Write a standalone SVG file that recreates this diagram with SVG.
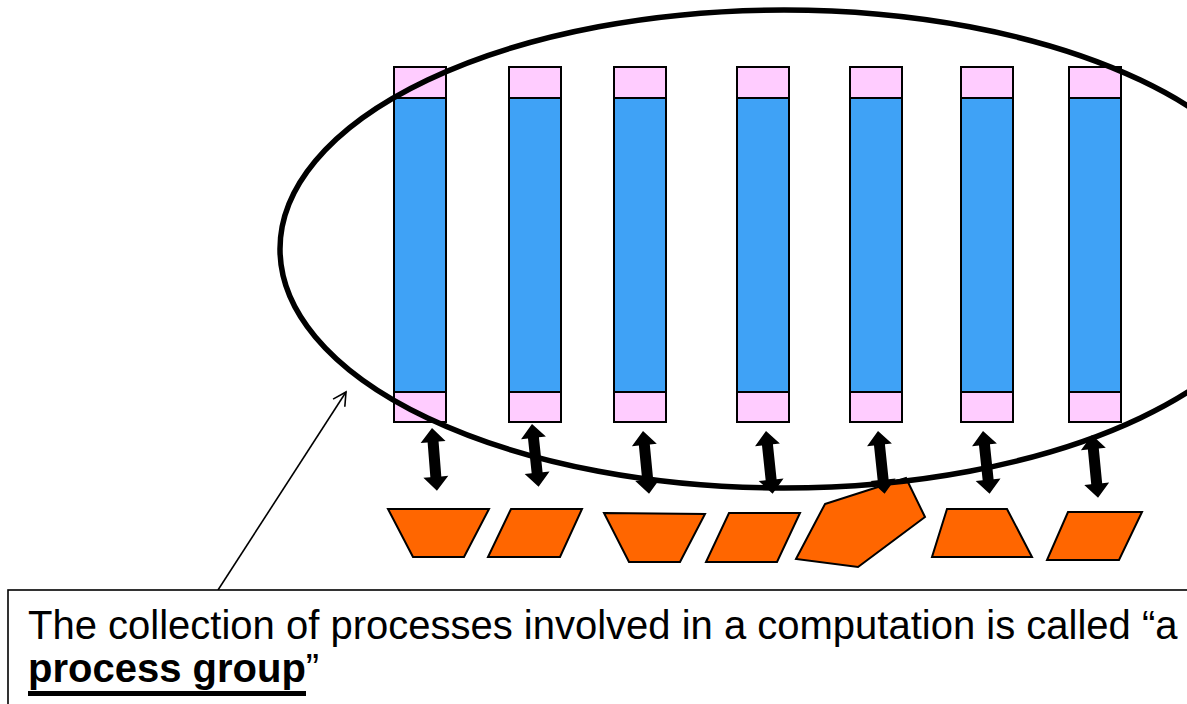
<svg xmlns="http://www.w3.org/2000/svg" xmlns:xlink="http://www.w3.org/1999/xlink" width="1187" height="704" viewBox="0 0 1187 704">
<style>
.pink{fill:#FFCCFF;stroke:#000;stroke-width:2}
.blue{fill:#3FA2F6;stroke:#000;stroke-width:2}
.data{fill:#FF6600;stroke:#000;stroke-width:2;stroke-linejoin:miter}
.dbl{fill:#000}
.txt{font-family:"Liberation Sans",Arial,sans-serif;font-size:40px;fill:#000}
</style>
<defs>
<path id="darrow" class="dbl" d="M0,0 L12.5,14 L5.5,14 L5.5,49 L12.5,49 L0,63 L-12.5,49 L-5.5,49 L-5.5,14 L-12.5,14 Z"/>
<marker id="openhead" viewBox="0 0 16 16" refX="14" refY="8" markerWidth="16" markerHeight="16" markerUnits="userSpaceOnUse" orient="auto">
<path d="M1,1 L14,8 L1,15" fill="none" stroke="#000" stroke-width="1.6"/>
</marker>
</defs>
<g id="processes">
<g id="p1"><rect class="pink" x="394" y="67" width="52" height="31"/><rect class="blue" x="394" y="98" width="52" height="294"/><rect class="pink" x="394" y="392" width="52" height="30"/></g>
<g id="p2"><rect class="pink" x="509" y="67" width="52" height="31"/><rect class="blue" x="509" y="98" width="52" height="294"/><rect class="pink" x="509" y="392" width="52" height="30"/></g>
<g id="p3"><rect class="pink" x="614" y="67" width="52" height="31"/><rect class="blue" x="614" y="98" width="52" height="294"/><rect class="pink" x="614" y="392" width="52" height="30"/></g>
<g id="p4"><rect class="pink" x="737" y="67" width="52" height="31"/><rect class="blue" x="737" y="98" width="52" height="294"/><rect class="pink" x="737" y="392" width="52" height="30"/></g>
<g id="p5"><rect class="pink" x="850" y="67" width="52" height="31"/><rect class="blue" x="850" y="98" width="52" height="294"/><rect class="pink" x="850" y="392" width="52" height="30"/></g>
<g id="p6"><rect class="pink" x="961" y="67" width="52" height="31"/><rect class="blue" x="961" y="98" width="52" height="294"/><rect class="pink" x="961" y="392" width="52" height="30"/></g>
<g id="p7"><rect class="pink" x="1069" y="67" width="52" height="31"/><rect class="blue" x="1069" y="98" width="52" height="294"/><rect class="pink" x="1069" y="392" width="52" height="30"/></g>
</g>
<g id="data">
<polygon id="d1" class="data" points="388,509 489,509 464,557 413,557"/>
<polygon id="d2" class="data" points="511,509 582,509 560,557 488,557"/>
<polygon id="d3" class="data" points="604,513 705,514 680,562 629,562"/>
<polygon id="d4" class="data" points="729,513 800,513 777,562 706,562"/>
<polygon id="d5" class="data" points="825,504 906,478 925,517 858,567 796,559"/>
<polygon id="d6" class="data" points="947,509 1007,509 1032,557 932,557"/>
<polygon id="d7" class="data" points="1068,512 1142,512 1119,560 1047,560"/>
</g>
<g id="group">
<ellipse cx="784" cy="249" rx="504" ry="239" fill="none" stroke="#000" stroke-width="5.5"/>
</g>
<g id="connectors">
<use xlink:href="#darrow" transform="translate(432,428) rotate(-4.5)"/>
<use xlink:href="#darrow" transform="translate(532,424) rotate(-6)"/>
<use xlink:href="#darrow" transform="translate(643,431) rotate(-5.5)"/>
<use xlink:href="#darrow" transform="translate(766,431) rotate(-6)"/>
<use xlink:href="#darrow" transform="translate(878,431) rotate(-6)"/>
<use xlink:href="#darrow" transform="translate(983,431) rotate(-6)"/>
<use xlink:href="#darrow" transform="translate(1092,435) rotate(-5.5)"/>
<line x1="218" y1="590" x2="346" y2="392" stroke="#000" stroke-width="1.6" marker-end="url(#openhead)"/>
</g>
<g id="caption">
<rect x="8" y="590" width="1200" height="130" fill="#fff" stroke="#000" stroke-width="1.6"/>
<text class="txt" x="28" y="639">The collection of processes involved in a computation is called “a</text>
<text class="txt" x="28" y="682"><tspan font-weight="bold">process group</tspan>”</text>
<rect x="28" y="691" width="278" height="5" fill="#000"/>
</g>
</svg>
